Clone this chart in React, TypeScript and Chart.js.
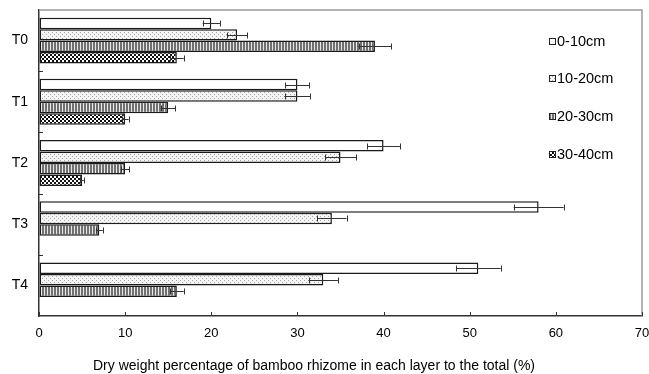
import React, { useEffect, useRef } from "react";
import { Chart, registerables } from "chart.js";

Chart.register(...registerables);

const categories = ["T0", "T1", "T2", "T3", "T4"];
const layerLabels = ["0-10cm", "10-20cm", "20-30cm", "30-40cm"];
const layer0_10 = [20, 30, 40, 58, 51];
const err0_10 = [1.0, 1.4, 1.9, 2.9, 2.6];
const layer10_20 = [23, 30, 35, 34, 33];
const err10_20 = [1.2, 1.5, 1.8, 1.7, 1.7];
const layer20_30 = [39, 15, 10, 7, 16];
const err20_30 = [1.9, 0.8, 0.5, 0.4, 0.8];
const layer30_40 = [16, 10, 5, null, null];
const err30_40 = [0.8, 0.4, 0.2, null, null];
const xTicks = [0, 10, 20, 30, 40, 50, 60, 70];
const xTitle = "Dry weight percentage of bamboo rhizome in each layer to the total (%)";

const FONT = "'Liberation Sans', Arial, sans-serif";

function makePattern(kind: number): CanvasPattern | string {
  const c = document.createElement("canvas");
  const ctx = c.getContext("2d")!;
  if (kind === 0) return "#ffffff";
  if (kind === 1) {
    c.width = 4; c.height = 4;
    ctx.fillStyle = "#f4f4f4";
    ctx.fillRect(0, 0, 4, 4);
    ctx.fillStyle = "#a8a8a8";
    ctx.fillRect(0, 0, 1, 1);
    ctx.fillRect(2, 2, 1, 1);
  } else if (kind === 2) {
    c.width = 3; c.height = 3;
    ctx.fillStyle = "#707070";
    ctx.fillRect(0, 0, 3, 3);
    ctx.fillStyle = "#e8e8e8";
    ctx.fillRect(2, 0, 1, 3);
  } else {
    c.width = 4; c.height = 4;
    ctx.fillStyle = "#ffffff";
    ctx.fillRect(0, 0, 4, 4);
    ctx.fillStyle = "#111111";
    ctx.fillRect(0, 0, 2, 2);
    ctx.fillRect(2, 2, 2, 2);
  }
  return ctx.createPattern(c, "repeat")!;
}

export default function App() {
  const ref = useRef<HTMLCanvasElement>(null);
  useEffect(() => {
    const canvas = ref.current!;
    const fills = [0, 1, 2, 3].map(makePattern);
    const values = [layer0_10, layer10_20, layer20_30, layer30_40];
    const errs = [err0_10, err10_20, err20_30, err30_40];

    const extras = {
      id: "extras",
      beforeDraw(chart: any) {
        const ctx = chart.ctx;
        ctx.save();
        ctx.fillStyle = "#ffffff";
        ctx.fillRect(0, 0, chart.width, chart.height);
        ctx.restore();
      },
      afterDatasetsDraw(chart: any) {
        const ctx = chart.ctx;
        const xs = chart.scales.x;
        const area = chart.chartArea;
        ctx.save();
        // error bars
        ctx.strokeStyle = "#333";
        ctx.lineWidth = 1;
        errs.forEach((arr, i) => {
          const meta = chart.getDatasetMeta(i);
          arr.forEach((e, j) => {
            const v = values[i][j];
            if (e == null || v == null) return;
            const bar = meta.data[j];
            const y = Math.round(bar.y) + 0.5;
            const x1 = xs.getPixelForValue(v - e);
            const x2 = xs.getPixelForValue(v + e);
            ctx.beginPath();
            ctx.moveTo(x1, y);
            ctx.lineTo(x2, y);
            ctx.moveTo(Math.round(x1) + 0.5, y - 3);
            ctx.lineTo(Math.round(x1) + 0.5, y + 3);
            ctx.moveTo(Math.round(x2) + 0.5, y - 3);
            ctx.lineTo(Math.round(x2) + 0.5, y + 3);
            ctx.stroke();
          });
        });
        // top & right border
        ctx.strokeStyle = "#9a9a9a";
        ctx.lineWidth = 1.5;
        ctx.beginPath();
        ctx.moveTo(area.left, area.top);
        ctx.lineTo(area.right, area.top);
        ctx.lineTo(area.right, area.bottom);
        ctx.stroke();
        // inner ticks
        ctx.strokeStyle = "#333";
        ctx.lineWidth = 1;
        ctx.beginPath();
        xTicks.forEach((t) => {
          const x = Math.round(xs.getPixelForValue(t)) + 0.5;
          ctx.moveTo(x, area.bottom);
          ctx.lineTo(x, area.bottom - 4);
        });
        const n = categories.length;
        for (let k = 1; k < n; k++) {
          const y = Math.round(area.top + ((area.bottom - area.top) * k) / n) + 0.5;
          ctx.moveTo(area.left, y);
          ctx.lineTo(area.left + 4, y);
        }
        ctx.stroke();
        // legend
        const ly = [42, 79, 117, 155];
        ctx.font = "14.5px " + FONT;
        ctx.textBaseline = "middle";
        ctx.textAlign = "left";
        layerLabels.forEach((lab, i) => {
          const y = ly[i];
          ctx.fillStyle = fills[i] as any;
          ctx.fillRect(549, y - 4, 7, 7);
          ctx.strokeStyle = "#222";
          ctx.lineWidth = 1;
          ctx.strokeRect(549.5, y - 3.5, 6, 6);
          ctx.fillStyle = "#000";
          ctx.fillText(lab, 557, y);
        });
        // x axis title
        ctx.font = "14px " + FONT;
        ctx.textAlign = "center";
        ctx.fillStyle = "#000";
        ctx.fillText(xTitle, 314, 366);
        ctx.restore();
      },
    };

    const chart = new Chart(canvas, {
      type: "bar",
      data: {
        labels: categories,
        datasets: values.map((vals, i) => ({
          label: layerLabels[i],
          data: vals as any,
          backgroundColor: fills[i] as any,
          borderColor: "#1a1a1a",
          borderWidth: 1.5,
          borderSkipped: false,
          categoryPercentage: 0.75,
          barPercentage: 1.0,
        })),
      },
      options: {
        indexAxis: "y",
        animation: false,
        responsive: false,
        devicePixelRatio: 1,
        layout: { autoPadding: false, padding: { top: 10, right: 7, left: 0, bottom: 0 } },
        plugins: {
          legend: { display: false },
          tooltip: { enabled: false },
        },
        scales: {
          x: {
            type: "linear",
            min: 0,
            max: 70,
            ticks: { stepSize: 10, color: "#000", font: { size: 13, family: FONT }, padding: 10 },
            grid: { drawOnChartArea: false, drawTicks: false },
            border: { color: "#333", width: 1.5 },
            afterFit: (s: any) => {
              s.height = 58;
              s.paddingLeft = 0;
              s.paddingRight = 0;
              s.paddingTop = 0;
              s.paddingBottom = 0;
            },
          },
          y: {
            type: "category",
            ticks: { color: "#000", font: { size: 14, family: FONT }, padding: 11 },
            grid: { drawOnChartArea: false, drawTicks: false },
            border: { color: "#333", width: 1.5 },
            afterFit: (s: any) => {
              s.width = 39;
              s.paddingLeft = 0;
              s.paddingRight = 0;
              s.paddingTop = 0;
              s.paddingBottom = 0;
            },
          },
        },
      },
      plugins: [extras],
    } as any);
    return () => chart.destroy();
  }, []);
  return (
    <div style={{ position: "fixed", left: 0, top: 0, width: 649, height: 374, background: "#fff" }}>
      <canvas ref={ref} width={649} height={374} />
    </div>
  );
}
